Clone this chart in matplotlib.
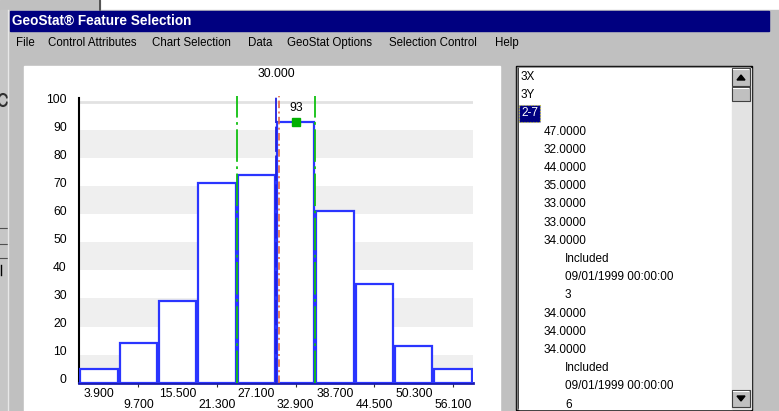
import numpy as np
import matplotlib.pyplot as plt
from matplotlib.patches import Rectangle, Arc
from matplotlib.transforms import ScaledTranslation

plt.rcParams['font.family'] = ['Liberation Sans', 'DejaVu Sans']

# histogram data
bin_centers = [3.9, 9.7, 15.5, 21.3, 27.1, 32.9, 38.7, 44.5, 50.3, 56.1]
counts = [5, 14, 29, 71, 74, 93, 61, 35, 13, 5]
bin_width = 5.8
tick_labels = ['3.900', '9.700', '15.500', '21.300', '27.100',
               '32.900', '38.700', '44.500', '50.300', '56.100']
y_ticks = [0, 10, 20, 30, 40, 50, 60, 70, 80, 90, 100]
selected_value = 30.0      # blue cut line, labelled on top
mean_line = 30.5           # orange dash-dot line
limit_lines = [24.2, 35.8] # green dash-dot lines
peak_bin = 5               # index of the marked bar

menu_items = ['File', 'Control Attributes', 'Chart Selection', 'Data',
              'GeoStat Options', 'Selection Control', 'Help']
menu_x = [16, 48, 152, 248, 287, 389, 495]

list_items = ['3X', '3Y', '2-7', '47.0000', '32.0000', '44.0000', '35.0000',
              '33.0000', '33.0000', '34.0000', 'Included',
              '09/01/1999 00:00:00', '3', '34.0000', '34.0000', '34.0000',
              'Included', '09/01/1999 00:00:00', '6']
list_indent = [0, 0, 0, 1, 1, 1, 1, 1, 1, 1, 2, 2, 2, 1, 1, 1, 2, 2, 2]

fs = 8.7  # chart text size

fig = plt.figure(figsize=(7.79, 4.11), dpi=100)

# --- window chrome, drawn in pixel coordinates ---
ui = fig.add_axes([0, 0, 1, 1])
ui.set_xlim(0, 779)
ui.set_ylim(411, 0)
ui.axis('off')

gray = '#c0c0c0'
ui.add_patch(Rectangle((0, 0), 779, 411, color='white'))
ui.add_patch(Rectangle((0, 0), 100, 10, color=gray))
ui.plot([100, 100], [0, 10], color='#404040', lw=1.2)
ui.add_patch(Rectangle((0, 10), 8, 401, color='#c6c6c6'))
for yy in [228, 244, 258]:
    ui.plot([0, 8], [yy, yy], color='#505050', lw=0.8)
ui.plot([1.5, 1.5], [265, 275], color='black', lw=1)
ui.add_patch(Arc((3, 100), 9, 12, theta1=200, theta2=340, color='#303030', lw=1.5))
ui.add_patch(Arc((3, 100), 9, 12, theta1=20, theta2=160, color='#303030', lw=1.5))

ui.add_patch(Rectangle((8, 10), 771, 401, color=gray))
ui.plot([8.5, 8.5], [10, 411], color='#e8e8e8', lw=1)
ui.add_patch(Rectangle((10, 11), 759, 20, color='#000080'))
ui.text(12, 21, 'GeoStat\u00ae Feature Selection', color='white',
        fontsize=9.8, fontweight='bold', va='center')
for label, x in zip(menu_items, menu_x):
    ui.text(x, 43, label, fontsize=8.3, va='center')

# chart panel
ui.add_patch(Rectangle((24, 66), 476, 345, color='white'))

# list box
ui.add_patch(Rectangle((516, 66), 236, 344, color='black'))
ui.add_patch(Rectangle((517.5, 67.5), 233, 341, color='#808080', fill=False, lw=1))
ui.add_patch(Rectangle((519, 68), 213, 341, color='white'))
ui.add_patch(Rectangle((732, 68), 19, 341, color='#e3e3e3'))
for y0, y1 in [(68, 86), (87, 101), (390, 407)]:
    ui.add_patch(Rectangle((732, y0), 18, y1 - y0, facecolor=gray,
                           edgecolor='#404040', lw=0.8))
    ui.plot([733, 748], [y0 + 1, y0 + 1], color='white', lw=0.8)
ui.fill([737, 745, 741], [80, 80, 75], color='black')
ui.fill([737, 745, 741], [396, 396, 401], color='black')

indent_x = [521, 544, 565]
for i, (txt, lvl) in enumerate(zip(list_items, list_indent)):
    y = 77 + i * 18.2
    if txt == '2-7':
        ui.add_patch(Rectangle((519, y - 8.5), 21, 17, facecolor='#000080',
                               edgecolor='#c8c840', lw=0.8, linestyle=':'))
        ui.text(indent_x[lvl], y, txt, fontsize=8.5, va='center', color='white')
    else:
        ui.text(indent_x[lvl], y, txt, fontsize=8.5, va='center')

# --- histogram axes ---
ax = fig.add_axes([79.3 / 779, (411 - 382.7) / 411,
                   (472.8 - 79.3) / 779, (382.7 - 96.4) / 411])
ax.set_xlim(1.0, 59.0)
ax.set_ylim(0, 102)
ax.patch.set_alpha(0)

for lo in range(0, 90, 20):
    ax.axhspan(lo, lo + 10, color='#efefef', lw=0, zorder=0)
ax.axhline(100, color='#e2e2e2', lw=2, zorder=0)

ax.bar(bin_centers, counts, width=bin_width * 0.95, facecolor='white',
       edgecolor='#2a35ff', linewidth=1.6, zorder=3)

for xv in limit_lines:
    ax.axvline(xv, color='#10c010', lw=1.3, dashes=(18, 2.5, 1.5, 2.5), zorder=4)
ax.axvline(selected_value, color='#2020e0', lw=1.3, dashes=(14, 2), zorder=4)
ax.axvline(mean_line, color='#e06a48', lw=1.2, dashes=(4.5, 2, 1.2, 2), zorder=5)

ax.plot(bin_centers[peak_bin], counts[peak_bin], 's', color='#00b000',
        markersize=5.5, zorder=6)
ax.annotate(str(counts[peak_bin]), (bin_centers[peak_bin], counts[peak_bin]),
            xytext=(0, 14), textcoords='offset pixels', ha='center',
            va='center', fontsize=fs)
ax.text(selected_value, 110, '%.3f' % selected_value, ha='center',
        va='center', fontsize=fs, clip_on=False)

for side in ['top', 'right']:
    ax.spines[side].set_visible(False)
ax.spines['left'].set_color('black')
ax.spines['left'].set_linewidth(1.5)
ax.spines['left'].set_bounds(0, 101.5)
ax.spines['bottom'].set_color('#1c1cb0')
ax.spines['bottom'].set_linewidth(2)

ax.set_yticks(y_ticks)
ax.tick_params(axis='y', length=0, pad=9, labelsize=fs)
shift = ScaledTranslation(0, 4 / 100, fig.dpi_scale_trans)
for lab in ax.get_yticklabels():
    lab.set_transform(lab.get_transform() + shift)

ax.set_xticks(bin_centers[0::2])
ax.set_xticklabels(tick_labels[0::2])
ax.set_xticks(bin_centers[1::2], minor=True)
ax.set_xticklabels(tick_labels[1::2], minor=True)
ax.tick_params(axis='x', which='major', length=0, pad=4, labelsize=fs)
ax.tick_params(axis='x', which='minor', length=3, width=0.8, color='#303030',
               pad=8.5, labelsize=fs)

fig.savefig('out.png', dpi=100)
